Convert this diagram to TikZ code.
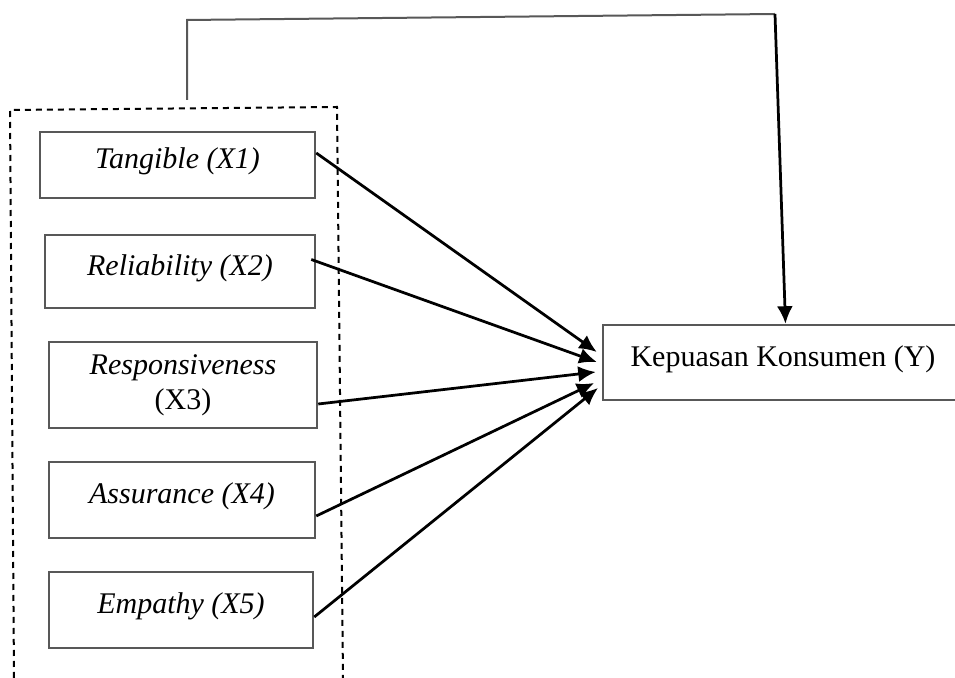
\documentclass[tikz,border=0pt]{standalone}
\usepackage{fontspec}
\setmainfont{Liberation Serif}
\usetikzlibrary{arrows.meta}
\definecolor{boxgray}{RGB}{88,88,88}

\begin{document}
\begin{tikzpicture}[x=0.4pt,y=-0.4pt,
		varbox/.style={draw=boxgray, line width=1pt, font=\fontsize{12}{14}\selectfont, align=center, inner sep=0pt},
		liftup/.style={text height=8pt, text depth=5pt},
		path/.style={black, line width=1.1pt, -{Latex[length=7pt,width=6.4pt]}}]
		\useasboundingbox (0,0) rectangle (955,678);

		\node[varbox, liftup, minimum width=110pt, minimum height=26.4pt] (tangible) at (177.5,165) {\textit{Tangible (X1)}};
		\node[varbox, liftup, minimum width=108pt, minimum height=29.2pt] (reliability) at (180,271.5) {\textit{Reliability (X2)}};
		\node[varbox, minimum width=107.2pt, minimum height=34.4pt] (responsiveness) at (183,385) {\textit{Responsiveness}\\(X3)};
		\node[varbox, liftup, minimum width=106.4pt, minimum height=30.4pt] (assurance) at (182,500) {\textit{Assurance (X4)}};
		\node[varbox, liftup, minimum width=105.6pt, minimum height=30.4pt] (empathy) at (181,610) {\textit{Empathy (X5)}};
		\node[varbox, liftup, minimum width=144pt, minimum height=30pt] (kepuasan) at (783,362.5) {Kepuasan Konsumen (Y)};

		\draw[black, line width=0.8pt, dash pattern=on 2.4pt off 2pt] (14,678) -- (10,110) -- (337,107) -- (343,678);

		\coordinate (grpTop) at (187,100);
		\coordinate (topL) at (187,20);
		\coordinate (topR) at (775,14);
		\draw[boxgray, line width=0.8pt] (grpTop) -- (topL) -- (topR);
		\draw[path] (topR) -- ([xshift=1pt]kepuasan.north);

		\draw[path] ([yshift=4.8pt]tangible.east) -- ([xshift=-2pt,yshift=4.2pt]kepuasan.west);
		\draw[path] ([xshift=-2pt,yshift=4.8pt]reliability.east) -- ([xshift=-2pt,yshift=0.2pt]kepuasan.west);
		\draw[path] ([yshift=-7.6pt]responsiveness.east) -- ([xshift=-2.4pt,yshift=-3.8pt]kepuasan.west);
		\draw[path] ([yshift=-6.4pt]assurance.east) -- ([xshift=-3pt,yshift=-8.2pt]kepuasan.west);
		\draw[path] ([yshift=-2.8pt]empathy.east) -- ([xshift=-1.5pt,yshift=-10.2pt]kepuasan.west);
	\end{tikzpicture}
\end{document}
